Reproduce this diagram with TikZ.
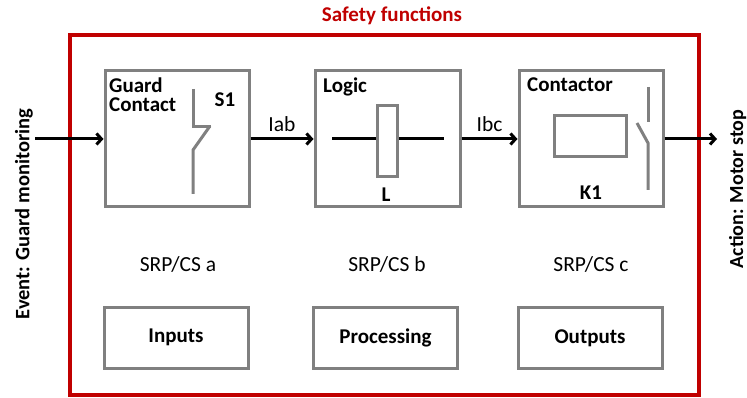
\documentclass[tikz,border=0pt]{standalone}
\usepackage{fontspec}
\setmainfont{Carlito}
\usetikzlibrary{arrows.meta, positioning, calc}
\definecolor{safety_red}{RGB}{192,0,0}
\definecolor{box_gray}{RGB}{128,128,128}

\begin{document}
\begin{tikzpicture}[x=1pt, y=-1pt, >={Straight Barb[length=5pt,width=11pt]},
    every node/.style={inner sep=0pt, font=\fontsize{21.5}{22}\selectfont},
    bold/.style={font=\fontsize{21}{19}\selectfont\bfseries},
    block/.style={rectangle, draw=box_gray, line width=3pt, fill=white, minimum width=144pt, minimum height=136pt},
    role/.style={rectangle, draw=box_gray, line width=3pt, minimum width=144pt, minimum height=61pt, bold},
    head/.style={anchor=north west, align=left, bold},
    symb/.style={box_gray, line width=3pt}]
      \useasboundingbox (0,0) rectangle (747,398);
      % outer frame
      \draw[safety_red, line width=3.5pt] (70,35) rectangle (699,395);
      \node[text=safety_red, bold] (title) at (392,16) {Safety functions};
      % the three parts
      \node[block] (G) at (177,139) {};
      \node[block, minimum width=145pt] (L) at (387.5,139) {};
      \node[block] (K) at (591,139) {};
      \node[head] (Gt) at (109,78) {Guard\\Contact};
      \node[head] (Lt) at (323,78) {Logic};
      \node[head] (Kt) at (527,78) {Contactor};
      \node[bold] (S1) at (225,100) {S1};
      \node[bold] (Ln) at (386,195) {L};
      \node[bold] (K1) at (591,193) {K1};
      % S1 switch
      \draw[symb] (193,89) -- (193,127) -- (211,127);
      \draw[symb] (210,126) -- (193,150) -- (193,194);
      % L coil
      \draw[line width=3pt] (332,139) -- (444,139);
      \draw[symb, fill=white] (377,106) rectangle (397,177);
      % K1 coil and contact
      \draw[symb] (554,116) rectangle (626,157);
      \draw[symb] (648,87) -- (648,122);
      \draw[symb] (637,123) -- (648,143) -- (648,190);
      % signals
      \coordinate (in) at (35,139);
      \coordinate (out) at (717,139);
      \draw[->, line width=3pt] (in) -- (G);
      \draw[->, line width=3pt] (G) -- node[above=6pt] (iab) {Iab} (L);
      \draw[->, line width=3pt] (L) -- node[above=6pt] (ibc) {Ibc} (K);
      \draw[->, line width=3pt] (K) -- (out);
      \node[rotate=90, bold, font=\fontsize{20.5}{20}\selectfont\bfseries] (ev) at (24,214) {Event: Guard monitoring};
      \node[rotate=90, anchor=south, font=\fontsize{20}{20}\selectfont\bfseries] (act) at (746.5,189) {Action: Motor stop};
      % categories
      \node (a) at (178,264) {SRP/CS a};
      \node (b) at (387,264) {SRP/CS b};
      \node (c) at (591,264) {SRP/CS c};
      \node[role] (in_box) at (176,337.5) {Inputs};
      \node[role] (proc_box) at (385.5,337.5) {Processing};
      \node[role] (out_box) at (590,338) {Outputs};
    \end{tikzpicture}
\end{document}
